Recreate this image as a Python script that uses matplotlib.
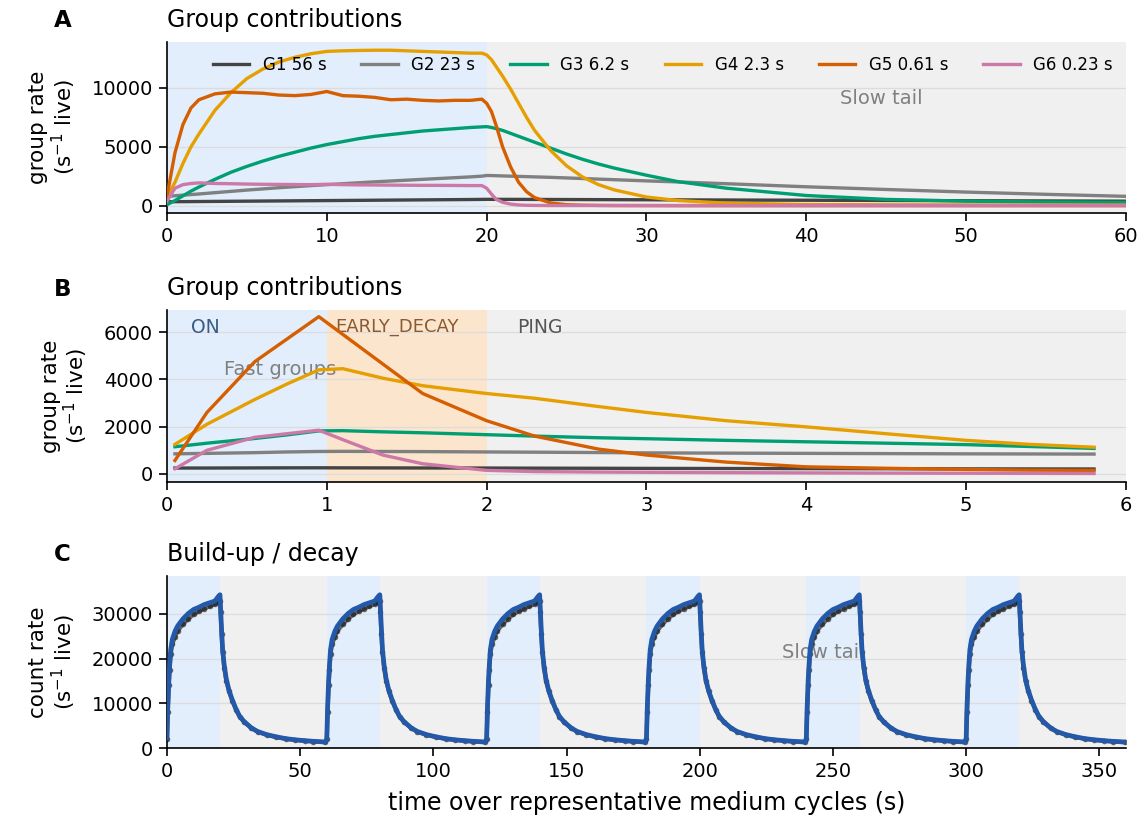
import matplotlib
matplotlib.use("Agg")
import matplotlib.pyplot as plt

# ---------------------------------------------------------------------------
# Data
# ---------------------------------------------------------------------------

GROUP_LABELS = ["G1 56 s", "G2 23 s", "G3 6.2 s", "G4 2.3 s", "G5 0.61 s", "G6 0.23 s"]
GROUP_COLORS = ["#444444", "#808080", "#009E73", "#E69F00", "#D55E00", "#CC79A7"]

# Panel A: one full medium cycle (s)
T_A = [0, 0.5, 1, 1.5, 2, 3, 4, 5, 6, 7, 8, 9, 10, 11, 12, 13, 14, 15, 16, 17, 18, 19,
       19.7, 20, 20.3, 20.6, 21, 21.5, 22, 22.5, 23, 24, 25, 26, 27, 28, 30, 32, 35, 40,
       45, 50, 55, 60]
G1_A = [350, 355, 360, 365, 370, 380, 390, 400, 410, 420, 430, 440, 450, 460, 470, 480,
        490, 500, 510, 520, 530, 540, 550, 555, 555, 555, 553, 552, 550, 548, 546, 542,
        538, 534, 530, 526, 518, 510, 498, 478, 458, 438, 420, 400]
G2_A = [800, 860, 910, 960, 1010, 1120, 1230, 1340, 1440, 1540, 1630, 1720, 1800, 1880,
        1960, 2040, 2110, 2180, 2250, 2320, 2390, 2460, 2520, 2580, 2570, 2560, 2540, 2520,
        2500, 2480, 2460, 2420, 2370, 2320, 2270, 2220, 2120, 2030, 1880, 1620, 1390, 1170,
        980, 810]
G3_A = [100, 450, 850, 1250, 1600, 2250, 2850, 3350, 3800, 4200, 4550, 4900, 5200, 5450,
        5700, 5900, 6050, 6200, 6350, 6450, 6550, 6650, 6700, 6720, 6650, 6550, 6400, 6150,
        5900, 5650, 5400, 4900, 4400, 3950, 3550, 3200, 2600, 2050, 1500, 880, 550, 400,
        330, 300]
G4_A = [700, 2000, 3600, 5000, 6100, 8100, 9600, 10800, 11600, 12200, 12600, 12900, 13100,
        13150, 13180, 13200, 13200, 13150, 13100, 13050, 13000, 12950, 12950, 12800, 12400,
        11800, 11000, 9900, 8700, 7500, 6400, 4700, 3400, 2450, 1800, 1350, 750, 450, 230,
        120, 90, 80, 70, 70]
G5_A = [800, 4500, 6900, 8300, 9000, 9500, 9650, 9600, 9550, 9400, 9350, 9450, 9700, 9350,
        9300, 9200, 9000, 9050, 8950, 8900, 8950, 8950, 9050, 8700, 8000, 6800, 5000, 3300,
        2000, 1200, 700, 250, 100, 60, 40, 30, 25, 20, 20, 20, 20, 20, 20, 20]
G6_A = [400, 1500, 1800, 1900, 1950, 1900, 1880, 1850, 1830, 1820, 1810, 1800, 1830, 1800,
        1780, 1770, 1760, 1750, 1740, 1740, 1730, 1720, 1720, 1500, 1000, 550, 300, 150,
        80, 50, 40, 30, 30, 30, 30, 30, 30, 30, 30, 30, 30, 30, 30, 30]

# Panel B: first seconds of the cycle (s)
T_B = [0.05, 0.25, 0.55, 0.75, 0.95, 1.1, 1.35, 1.6, 2.0, 2.3, 2.7, 3.0, 3.5, 4.0, 4.5,
       5.0, 5.4, 5.8]
G1_B = [250, 250, 255, 258, 260, 258, 255, 252, 250, 245, 240, 235, 230, 225, 220, 215,
        212, 210]
G2_B = [850, 870, 900, 930, 950, 955, 950, 945, 930, 920, 905, 890, 880, 870, 860, 850,
        845, 840]
G3_B = [1150, 1300, 1500, 1650, 1820, 1830, 1780, 1740, 1660, 1600, 1530, 1490, 1420, 1360,
        1300, 1240, 1160, 1080]
G4_B = [1250, 2100, 3150, 3800, 4400, 4450, 4050, 3730, 3400, 3200, 2850, 2600, 2250, 1990,
        1700, 1420, 1250, 1130]
G5_B = [570, 2600, 4750, 5700, 6650, 5900, 4650, 3400, 2250, 1600, 1050, 800, 500, 300, 240,
        190, 160, 150]
G6_B = [220, 1000, 1550, 1700, 1850, 1450, 800, 430, 150, 100, 80, 70, 55, 45, 35, 30, 25, 20]

# Panel C: one cycle profile (offset in s), repeated at each cycle start
CYCLE_STARTS = [0, 60, 120, 180, 240, 300]
ON_LENGTH = 20
C_T = [0, 0.3, 0.7, 1.0, 1.4, 2, 3, 4, 6, 8, 10, 12, 14, 16, 18, 19.4, 19.9, 20.1, 20.5,
       20.9, 21.5, 22.3, 23.3, 24.5, 26, 27.3, 29, 31.7, 34, 37.4, 41, 44.6, 48, 51.8, 55,
       59.5]
C_MODEL = [2200, 9000, 15300, 18500, 22000, 24300, 26100, 27300, 28900, 30100, 31000, 31500,
           32100, 32500, 32900, 34000, 34300, 31700, 26500, 22000, 18500, 15300, 12900,
           10800, 8600, 7100, 5900, 4500, 3700, 3000, 2500, 2100, 1850, 1640, 1500, 1350]
C_OBS = [2000, 8000, 14000, 17500, 21000, 23200, 24900, 26200, 27700, 28900, 29900, 30600,
         31200, 31700, 32200, 32600, 32900, 30500, 25500, 21500, 18000, 15000, 12700, 10600,
         8500, 7000, 5800, 4450, 3650, 2950, 2450, 2050, 1800, 1600, 1450, 1300]

BG = "#f0f0f0"
ON_COLOR = "#e2eefb"
EARLY_COLOR = "#fbe5cd"
GRID = "#dcdcdc"
NOTE = "#808080"

plt.rcParams["font.family"] = ["DejaVu Sans"]

FIG_H = 815.0
fig = plt.figure(figsize=(11.42, 8.15), dpi=100)
left, width = 0.1462, 0.8398
axA = fig.add_axes([left, 0.7387, width, 0.2098])
axB = fig.add_axes([left, 0.4086, width, 0.2110])
axC = fig.add_axes([left, 0.0822, width, 0.2111])


def style(ax, ylabel, title, letter):
    ax.set_facecolor(BG)
    for side in ("top", "right"):
        ax.spines[side].set_visible(False)
    for side in ("left", "bottom"):
        ax.spines[side].set_linewidth(1.2)
    ax.tick_params(labelsize=14, length=6, width=1.2, pad=4)
    ax.yaxis.grid(True, color=GRID, lw=0.9)
    ax.set_axisbelow(True)
    ax.set_ylabel(ylabel, fontsize=15.5, labelpad=10, linespacing=1.05)
    ax.set_title(title, loc="left", fontsize=17, pad=10.5)
    top = ax.get_position().y1
    fig.text(0.047, top + 14.5 / FIG_H, letter, fontsize=16.5, fontweight="bold",
             va="baseline")


# --- A ---------------------------------------------------------------------
style(axA, "group rate\n(s$^{-1}$ live)", "Group contributions", "A")
axA.axvspan(0, 20, color=ON_COLOR, lw=0, zorder=0)
for vals, lab, col in zip([G1_A, G2_A, G3_A, G4_A, G5_A, G6_A], GROUP_LABELS, GROUP_COLORS):
    axA.plot(T_A, vals, color=col, lw=2.4, label=lab, zorder=3)
axA.set_xlim(0, 60)
axA.set_ylim(-600, 13900)
axA.set_xticks(range(0, 61, 10))
axA.set_yticks([0, 5000, 10000])
axA.text(44.7, 9100, "Slow tail", ha="center", va="center", fontsize=14, color=NOTE,
         zorder=1)
axA.legend(loc="center", ncol=6, frameon=False, fontsize=12, handlelength=2.2,
           handletextpad=0.8, columnspacing=2.1, bbox_to_anchor=(0.517, 0.865))

# --- B ---------------------------------------------------------------------
style(axB, "group rate\n(s$^{-1}$ live)", "Group contributions", "B")
axB.axvspan(0, 1, color=ON_COLOR, lw=0, zorder=0)
axB.axvspan(1, 2, color=EARLY_COLOR, lw=0, zorder=0)
for vals, col in zip([G1_B, G2_B, G3_B, G4_B, G5_B, G6_B], GROUP_COLORS):
    axB.plot(T_B, vals, color=col, lw=2.4, zorder=3)
axB.set_xlim(0, 6)
axB.set_ylim(-340, 6930)
axB.set_xticks(range(0, 7))
axB.set_yticks([0, 2000, 4000, 6000])
axB.text(0.15, 6200, "ON", fontsize=13.5, color="#3b5b85", va="center", zorder=1)
axB.text(1.05, 6200, "EARLY_DECAY", fontsize=13, color="#8a5a33", va="center", zorder=1)
axB.text(2.19, 6200, "PING", fontsize=13.5, color="#555555", va="center", zorder=1)
axB.text(0.355, 4400, "Fast groups", fontsize=14, color=NOTE, va="center", zorder=1)

# --- C ---------------------------------------------------------------------
style(axC, "count rate\n(s$^{-1}$ live)", "Build-up / decay", "C")
t_all, model_all, obs_all = [], [], []
for start in CYCLE_STARTS:
    axC.axvspan(start, start + ON_LENGTH, color=ON_COLOR, lw=0, zorder=0)
    t_all += [start + t for t in C_T]
    model_all += C_MODEL
    obs_all += C_OBS
axC.plot(t_all, obs_all, color="#1a1a1a", lw=3, alpha=0.65, marker="o", ms=4,
         mew=0, zorder=2)
axC.plot(t_all, model_all, color="#2359a8", lw=3.4, zorder=3)
axC.set_xlim(0, 360)
axC.set_ylim(0, 38500)
axC.set_xticks(range(0, 351, 50))
axC.set_yticks([0, 10000, 20000, 30000])
axC.text(230.9, 21400, "Slow tail", fontsize=14, color=NOTE, va="center", zorder=1)
axC.set_xlabel("time over representative medium cycles (s)", fontsize=17, labelpad=7)

fig.savefig("out.png", dpi=100)
